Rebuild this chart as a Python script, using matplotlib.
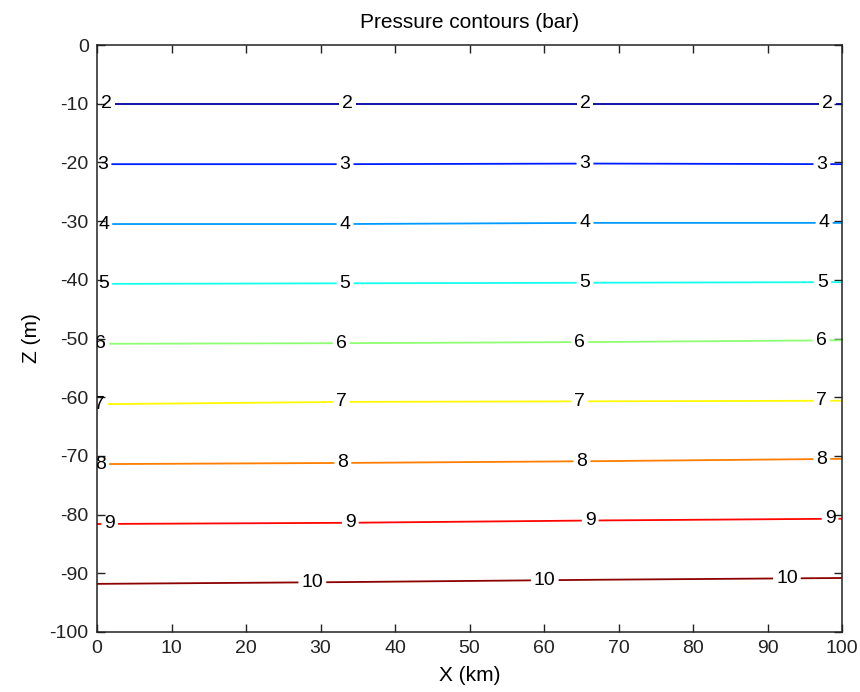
import numpy as np
import matplotlib
matplotlib.use("Agg")
import matplotlib.pyplot as plt
from matplotlib.colors import LinearSegmentedColormap

plt.rcParams['font.family'] = ['Liberation Sans', 'DejaVu Sans']
plt.rcParams['axes.unicode_minus'] = False

# ---- data ----
x_cols = [0, 33, 67, 100]                       # X (km) columns
levels = [2, 3, 4, 5, 6, 7, 8, 9, 10]           # pressure levels (bar)
depth_x0   = [-10.0, -20.3, -30.5, -40.7, -50.9, -61.2, -71.4, -81.6, -91.8]
depth_x33  = [-10.0, -20.3, -30.5, -40.6, -50.8, -60.8, -71.2, -81.4, -91.5]
depth_x67  = [-10.0, -20.2, -30.3, -40.5, -50.6, -60.7, -70.9, -81.0, -91.1]
depth_x100 = [-10.0, -20.3, -30.3, -40.4, -50.3, -60.6, -70.5, -80.7, -90.8]
surface_z, surface_p = 0.0, 1.0
bottom_z, bottom_p = -100.0, [10.8, 10.8, 10.85, 10.9]

# label positions (x km)
label_x = {2: [1.3, 33.6, 65.5, 98.0], 3: [0.8, 33.3, 65.5, 97.3],
           4: [0.9, 33.3, 65.5, 97.6], 5: [0.9, 33.3, 65.5, 97.4],
           6: [0.5, 32.8, 64.8, 97.2], 7: [0.3, 32.8, 64.8, 97.3],
           8: [0.5, 33.0, 65.1, 97.3], 9: [1.7, 34.0, 66.2, 98.4],
           10: [28.9, 60.1, 92.6]}

title = 'Pressure contours (bar)'
xlabel = 'X (km)'
ylabel = 'Z (m)'

# MATLAB-style jet colormap
matlab_jet = LinearSegmentedColormap('matlab_jet', {
    'red':   [(0, 0, 0), (0.375, 0, 0), (0.625, 1, 1), (0.875, 1, 1), (1, 0.5, 0.5)],
    'green': [(0, 0, 0), (0.125, 0, 0), (0.375, 1, 1), (0.625, 1, 1), (0.875, 0, 0), (1, 0, 0)],
    'blue':  [(0, 0.5, 0.5), (0.125, 1, 1), (0.375, 1, 1), (0.625, 0, 0), (1, 0, 0)],
})

# ---- build grid ----
depths = np.array([depth_x0, depth_x33, depth_x67, depth_x100]).T   # (nlev, ncol)
ncol = len(x_cols)
Y = np.vstack([np.full(ncol, surface_z), depths, np.full(ncol, bottom_z)])
X = np.tile(np.array(x_cols, float), (Y.shape[0], 1))
P = np.vstack([np.full(ncol, surface_p),
               np.tile(np.array(levels, float)[:, None], (1, ncol)),
               np.array(bottom_p)])

fig = plt.figure(figsize=(8.6, 6.92), dpi=100)
ax = fig.add_axes([97/860, 1-632/692, (842-97)/860, (632-45)/692])

cs = ax.contour(X, Y, P, levels=levels, cmap=matlab_jet, vmin=1.7, vmax=10.1,
                linewidths=1.3)

manual = []
for i, lev in enumerate(levels):
    for xx in label_x[lev]:
        zz = np.interp(xx, x_cols, depths[i])
        manual.append((xx, zz))
ax.clabel(cs, manual=manual, inline=True, fmt='%d', colors='k', fontsize=14,
          inline_spacing=3)

ax.set_xlim(0, 100)
ax.set_ylim(-100, 0)
ax.set_xticks(np.arange(0, 101, 10))
ax.set_yticks(np.arange(-100, 1, 10))
ax.tick_params(direction='in', top=True, right=True, length=6, width=1,
               labelsize=14, pad=6, colors='#222222')
for s in ax.spines.values():
    s.set_linewidth(1.1)
    s.set_color('#222222')
ax.set_title(title, fontsize=15, pad=12)
ax.set_xlabel(xlabel, fontsize=15, labelpad=6)
ax.set_ylabel(ylabel, fontsize=15, labelpad=6)

fig.savefig('out.png', dpi=100)
